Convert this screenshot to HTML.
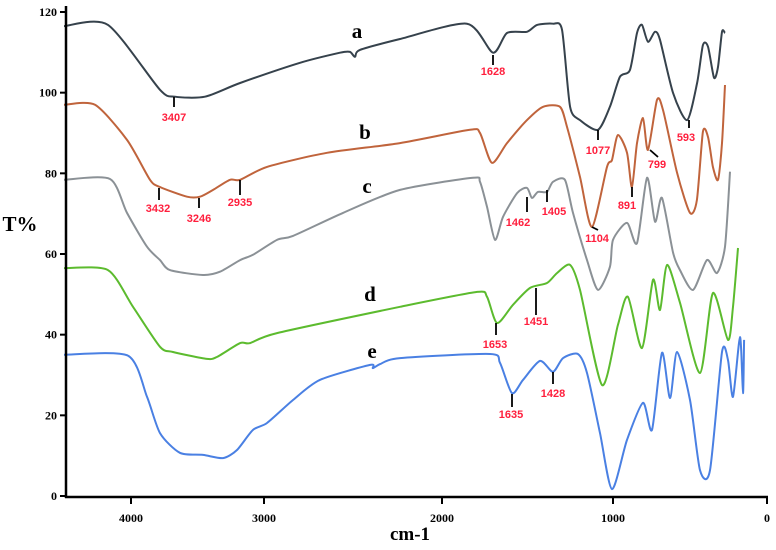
<!DOCTYPE html>
<html><head><meta charset="utf-8"><style>
html,body{margin:0;padding:0;background:#fff;}
svg{display:block;font-family:"Liberation Serif",serif;}
.tl{font-size:12px;font-weight:bold;fill:#000;}
.ann{font-family:"Liberation Sans",sans-serif;font-size:11px;font-weight:bold;fill:#ff1f3d;}
.let{font-size:21px;font-weight:bold;fill:#000;}
</style></head><body>
<svg id="chart" width="776" height="550" viewBox="0 0 776 550">
<g id="curves"></g>
<g id="axes"></g>
<g stroke="#000" stroke-width="1.8">
<line x1="174" y1="97" x2="174" y2="107"/><line x1="493" y1="55" x2="493" y2="65"/>
<line x1="598" y1="130" x2="598" y2="140"/><line x1="689" y1="120" x2="689" y2="128"/>
<line x1="159" y1="188" x2="159" y2="200"/><line x1="199" y1="198" x2="199" y2="208"/>
<line x1="240" y1="180" x2="240" y2="195"/><line x1="592" y1="227" x2="598" y2="230"/>
<line x1="632" y1="187" x2="632" y2="197"/><line x1="650" y1="150" x2="658" y2="157"/>
<line x1="527" y1="197" x2="527" y2="212"/><line x1="547" y1="190" x2="547" y2="202"/>
<line x1="496" y1="323" x2="496" y2="335"/><line x1="536" y1="288" x2="536" y2="315"/>
<line x1="512" y1="394" x2="512" y2="407"/><line x1="553" y1="372" x2="553" y2="384"/>
</g>
<g text-anchor="middle">
<text class="ann" x="174" y="121">3407</text>
<text class="ann" x="493" y="75">1628</text>
<text class="ann" x="598" y="154">1077</text>
<text class="ann" x="686" y="141">593</text>
<text class="ann" x="158" y="212">3432</text>
<text class="ann" x="199" y="222">3246</text>
<text class="ann" x="240" y="206">2935</text>
<text class="ann" x="597" y="242">1104</text>
<text class="ann" x="627" y="209">891</text>
<text class="ann" x="657" y="168">799</text>
<text class="ann" x="518" y="226">1462</text>
<text class="ann" x="554" y="215">1405</text>
<text class="ann" x="495" y="348">1653</text>
<text class="ann" x="536" y="325">1451</text>
<text class="ann" x="511" y="418">1635</text>
<text class="ann" x="553" y="397">1428</text>
<text class="let" x="357" y="38">a</text>
<text class="let" x="365" y="139">b</text>
<text class="let" x="367" y="193">c</text>
<text class="let" x="370" y="301">d</text>
<text class="let" x="372" y="358">e</text>
<text class="let" x="20" y="231">T%</text>
<text class="let" x="410" y="540" style="font-size:19px">cm-1</text>
</g>
</svg>
<script>
const xTicks=[4000,3000,2000,1000,0];
const yTicks=[0,20,40,60,80,100,120];
const seriesNames=["a","b","c","d","e"];
const seriesColors=["#36424c","#c0643c","#8b9196","#5cbb2e","#4a80e3"];
const waveA=[4504,4173,3782,3669,3444,3180,2798,2573,2517,2489,2461,2236,1854,1702,1620,1503,1444,1351,1298,1251,1193,1088,1018,955,890,844,812,773,727,695,610,519,454,416,383,344,318,292,273];
const tA=[116.5,116.8,100.7,99.0,99.0,102.4,107.4,109.9,110.1,108.9,110.6,113.3,117.1,109.9,114.8,115.1,116.8,117.1,115.6,96.5,93.2,90.8,96.5,103.9,105.6,114.8,116.8,112.6,115.1,113.1,99.9,93.2,102.4,111.8,111.4,103.7,106.4,115.1,114.8];
const waveB=[4504,4271,4030,3857,3782,3579,3481,3383,3256,3180,2983,2646,2236,1836,1778,1708,1620,1503,1409,1310,1269,1193,1123,1035,1006,968,909,877,844,805,773,714,675,584,500,455,416,383,351,318,292,273];
const tB=[97.0,97.0,88.3,78.4,76.6,74.2,74.2,75.9,78.4,78.4,81.6,85.1,87.5,90.8,90.0,82.6,87.5,93.2,96.5,96.5,91.5,79.1,66.7,81.6,83.3,89.5,85.1,76.6,87.5,93.7,85.8,98.2,95.7,80.1,70.2,73.4,90.3,89.0,81.6,78.4,87.5,101.9];
const waveC=[4504,4158,4030,3880,3782,3707,3459,3331,3180,3083,2927,2837,2556,2236,1819,1778,1737,1690,1643,1561,1503,1474,1439,1386,1351,1281,1234,1152,1088,1018,1000,909,844,779,727,682,610,565,480,390,325,273,240];
const tC=[78.4,78.6,70.2,61.8,58.5,56.0,54.8,55.6,58.5,59.8,63.5,64.5,70.2,75.9,78.9,77.9,71.7,63.5,69.2,75.1,76.4,73.9,75.4,75.4,77.9,78.4,70.2,58.5,51.1,56.8,63.5,67.7,62.7,78.9,68.0,73.9,60.3,56.0,51.1,58.5,55.3,61.8,80.4];
const waveD=[4504,4173,3985,3782,3684,3429,3353,3180,3105,2927,2236,1795,1737,1678,1585,1485,1386,1327,1251,1193,1064,968,903,812,740,695,649,565,435,351,253,221,188];
const tD=[56.5,56.0,46.9,37.0,35.7,34.0,34.5,37.9,37.9,40.4,46.9,50.6,49.4,42.9,47.4,51.6,52.8,55.3,57.3,51.1,27.5,42.4,49.4,36.7,53.6,46.1,57.3,47.9,30.5,50.3,38.7,46.9,61.5];
const waveE=[4504,4023,3880,3782,3632,3459,3308,3203,3083,2983,2837,2685,2404,2388,2348,2236,1719,1661,1591,1526,1427,1351,1292,1205,1152,1076,1006,909,805,747,682,630,584,500,435,370,292,253,221,175,156,149];
const tE=[35.0,34.8,24.6,15.6,10.7,10.2,9.4,11.4,16.4,18.1,23.8,28.8,32.5,31.7,32.7,34.2,35.2,33.0,25.5,28.8,33.5,30.8,34.2,35.2,30.5,15.6,1.7,13.9,23.1,16.4,35.5,24.3,35.7,23.8,6.4,6.4,35.7,33.7,24.6,39.4,25.5,38.7];

const NS="http://www.w3.org/2000/svg";
const tickPx=[131,264,442,613,767];
function xScale(w){
  if(w>=xTicks[0]) return tickPx[0]-(w-xTicks[0])/1000*(tickPx[1]-tickPx[0]);
  for(let i=0;i<xTicks.length-1;i++){
    if(w<=xTicks[i]&&w>=xTicks[i+1]) return tickPx[i]+(xTicks[i]-w)/(xTicks[i]-xTicks[i+1])*(tickPx[i+1]-tickPx[i]);
  }
  return tickPx[4]+(0-w)/1000*(tickPx[4]-tickPx[3]);
}
function yScale(v){return 496-v*(484/120);}
function smooth(p){
  const k=1/8;
  let d="M"+p[0][0].toFixed(1)+","+p[0][1].toFixed(1);
  for(let i=0;i<p.length-1;i++){
    const p0=p[i-1]||p[i],p1=p[i],p2=p[i+1],p3=p[i+2]||p2;
    const c1x=p1[0]+(p2[0]-p0[0])*k,c1y=p1[1]+(p2[1]-p0[1])*k;
    const c2x=p2[0]-(p3[0]-p1[0])*k,c2y=p2[1]-(p3[1]-p1[1])*k;
    d+=" C"+c1x.toFixed(1)+","+c1y.toFixed(1)+" "+c2x.toFixed(1)+","+c2y.toFixed(1)+" "+p2[0].toFixed(1)+","+p2[1].toFixed(1);
  }
  return d;
}
const waves=[waveA,waveB,waveC,waveD,waveE], ts=[tA,tB,tC,tD,tE];
const cg=document.getElementById("curves");
for(let s=0;s<5;s++){
  const pts=waves[s].map((w,i)=>[xScale(w),yScale(ts[s][i])]);
  const path=document.createElementNS(NS,"path");
  path.setAttribute("d",smooth(pts));
  path.setAttribute("fill","none");
  path.setAttribute("stroke",seriesColors[s]);
  path.setAttribute("stroke-width","2");
  path.setAttribute("stroke-linejoin","round");
  
  
  cg.appendChild(path);
}
const ag=document.getElementById("axes");
function el(tag,attrs,parent){const e=document.createElementNS(NS,tag);for(const k in attrs)e.setAttribute(k,attrs[k]);parent.appendChild(e);return e;}
const yAxis=el("line",{x1:66,y1:6,x2:66,y2:498,stroke:"#000","stroke-width":2.5},ag);


const xAxis=el("line",{x1:65,y1:497,x2:768,y2:497,stroke:"#000","stroke-width":2.5},ag);


yTicks.forEach(v=>{
  const y=yScale(v);
  el("line",{x1:60,y1:y,x2:66,y2:y,stroke:"#000","stroke-width":2},ag);
  const t=el("text",{x:57,y:y+4,"text-anchor":"end",class:"tl"},ag);
  t.textContent=v;
  
  
});
xTicks.forEach(w=>{
  const x=xScale(w);
  el("line",{x1:x,y1:497,x2:x,y2:504,stroke:"#000","stroke-width":2},ag);
  const t=el("text",{x:x,y:522,"text-anchor":"middle",class:"tl"},ag);
  t.textContent=w;
  
  
});
</script>
</body></html>
